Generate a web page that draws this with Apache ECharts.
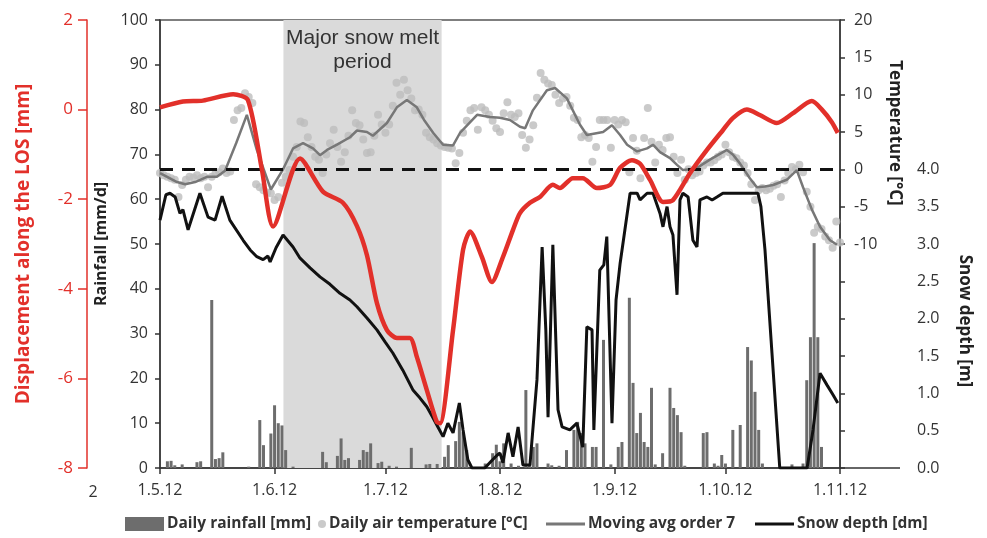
<!DOCTYPE html>
<html>
<head>
<meta charset="utf-8">
<script src="https://cdn.jsdelivr.net/npm/echarts@6/dist/echarts.min.js"></script>
<style>
  html, body { margin: 0; padding: 0; background: #fff; }
  #chart { width: 987px; height: 538px; }
</style>
</head>
<body>
<div id="chart"></div>
<script>
// Day index 0 = 1 May 2012
const monthStarts = [0, 31, 61, 92, 123, 153, 184];
const monthLabels = ['1.5.12', '1.6.12', '1.7.12', '1.8.12', '1.9.12', '1.10.12', '1.11.12'];

// Daily rainfall [mm], one value per day from 1.5.12
const rainfall = [
  0, 0, 1.5, 1.6, 0.6, 0, 0.8, 0, 0, 0,
  1.3, 1.5, 0, 0, 37.5, 2.0, 2.2, 3.5, 0, 0,
  0, 0, 0, 0, 0.3, 0, 0, 10.7, 5.1, 0,
  7.7, 14.0, 10.0, 9.5, 4.0, 0, 0.3, 0, 0, 0,
  0, 0, 0, 0, 3.6, 1.3, 0, 0, 2.7, 6.6,
  1.8, 2.2, 0, 0, 1.8, 4.0, 3.6, 5.5, 0, 1.1,
  1.4, 0, 0.5, 0, 0.3, 0, 0, 0, 4.5, 0,
  0, 0, 0.8, 0.9, 0, 0.9, 0, 2.5, 5.1, 0,
  6.0, 10.3, 8.0, 4.0, 0, 0, 0, 0, 1.0, 0,
  3.3, 5.2, 1.5, 5.5, 0, 1.0, 0, 0.5, 0, 17.4,
  0.8, 4.7, 5.5, 0, 0, 1.0, 0.6, 0, 0.5, 0,
  4.0, 0, 8.5, 10.3, 7.8, 5.5, 0, 4.7, 4.7, 0,
  28.6, 0, 0.8, 0, 4.7, 5.8, 0, 38.0, 19.0, 7.8,
  12.3, 5.8, 4.7, 17.9, 0.8, 0, 3.3, 0, 17.9, 13.4,
  11.8, 8.0, 0.5, 0, 0, 0, 0, 7.8, 8.0, 0,
  1.0, 0.5, 2.9, 1.0, 0, 8.5, 0, 9.6, 0, 27.0,
  24.0, 17.0, 8.5, 1.0, 0, 0, 0, 0, 0, 0,
  0, 0.8, 0, 0, 1.0, 19.6, 29.2, 50.2, 29.2, 4.7,
  0, 0, 0, 0
];

// Daily air temperature [°C], one value per day from 1.5.12 to 1.11.12
const airTemp = [
  -0.5, -0.8, -1.0, -1.2, -1.4, -3.7, -2.1, -1.4, -1.0, -1.1,
  -0.8, -1.2, -1.0, -2.4, -1.0, -0.6, -0.4, 0.1, -0.5, -0.3,
  6.6, 7.9, 8.2, 10.2, 9.7, 8.9, -2.0, -2.4, -2.8, -3.1,
  -3.2, -4.1, -3.7, -1.8, -1.0, -0.1, 1.7, 3.0, 6.4, 6.2,
  4.3, 3.0, 1.7, 1.3, -0.5, 2.0, 3.5, 5.3, 3.0, 1.0,
  2.3, 4.5, 7.9, 6.2, 5.9, 4.0, 2.2, 2.3, 4.5, 7.3,
  6.0, 4.9, 6.0, 8.5, 11.6, 10.0, 12.0, 10.6, 9.5, 7.9,
  8.0, 7.3, 4.9, 4.3, 4.0, 3.5, 3.2, 3.0, 2.9, 2.8,
  0.8, 2.2, 4.9, 6.5, 7.9, 8.2, 5.3, 8.3, 7.9, 7.3,
  6.5, 5.5, 5.0, 7.5, 9.0, 7.3, 7.0, 7.5, 4.6, 2.9,
  4.0, 5.9, 9.6, 12.9, 12.0, 11.5, 11.3, 10.0, 8.9, 9.5,
  9.7, 8.5, 6.9, 6.6, 4.3, 4.6, 4.2, 1.0, 3.0, 6.6,
  6.6, 6.6, 2.9, 6.6, 6.0, 6.6, 6.3, -0.4, 4.2, 2.5,
  -1.2, 4.2, 8.2, 3.7, 0.9, 3.3, 2.6, 4.2, 4.3, 1.7,
  -0.5, 1.3, -1.4, 0.0, -0.8, -0.5, -0.3, 0.5, 0.9, 0.9,
  1.2, 1.7, 2.0, 3.3, 2.3, 1.7, 1.5, 0.9, 0.5, -0.5,
  -2.0, -4.1, -2.8, -2.5, -2.8, -2.6, -2.2, -2.0, -3.7, -1.5,
  -0.5, 0.3, 0.0, 0.6, -0.4, -3.0, -5.0, -8.5, -7.7, -8.0,
  -9.0, -9.5, -10.5, -7.0, -9.8
];

// Moving average (order 7) of air temperature: [day, °C]
const movingAvg = [
  [0, -0.5], [2.7, -1.2], [4.6, -1.7], [6.8, -2.0], [9.5, -1.7], [12.7, -1.0],
  [15.4, -1.0], [17.6, -0.2], [20.6, 3.5], [23.5, 7.3], [26.2, 2.6], [30, -2.7],
  [33.3, 0], [36, 2.8], [38.7, 3.5], [41.4, 2.8], [43.3, 1.9], [45.2, 2.6],
  [47.9, 3.3], [51.4, 4.3], [53.3, 5.2], [56, 5.0], [57.6, 4.5], [61.4, 6.2],
  [64.1, 8.3], [66.8, 9.3], [69.5, 8.3], [71.6, 6.5], [73.9, 4.9], [76.6, 3.3],
  [79.3, 3.2], [81.2, 4.9], [83.1, 5.9], [85.8, 7.3], [89.3, 7.0], [92, 6.9],
  [94.7, 6.6], [97.4, 5.7], [98.8, 5.5], [100.9, 7.9], [104.7, 10.6], [106.9, 10.9],
  [110.1, 9.5], [113.6, 6.0], [115.5, 4.6], [117.7, 4.8], [119.9, 5.0], [122.3, 5.9],
  [124.5, 4.6], [126.4, 3.3], [129.1, 2.4], [131.8, 2.8], [133.4, 3.3], [135.3, 2.3],
  [138, 1.5], [139.9, 0.6], [141.5, -0.1], [143.4, 0], [145.3, 0.2], [148.8, 1.3],
  [153.4, 2.6], [155, 2.0], [156.9, 0.8], [159.6, -1.2], [161.5, -2.4], [163.7, -2.3],
  [165.9, -2.1], [169.6, -1.4], [172.3, -0.1], [174, -2.4], [176.4, -5.4], [178.6, -7.7],
  [181.3, -9.5], [183.2, -10.1]
];

// Snow depth: [day, m]
const snowDepth = [
  [0, 3.32], [1.6, 3.66], [2.7, 3.68], [4.1, 3.63], [5.4, 3.41], [6.2, 3.46], [7.6, 3.19],
  [10.8, 3.68], [13, 3.36], [14.9, 3.32], [16.8, 3.64], [18.9, 3.32], [22.5, 3.05],
  [24.4, 2.92], [26.2, 2.83], [27.9, 2.79], [29.2, 2.84], [29.8, 2.76], [31.4, 2.95],
  [33.3, 3.12], [36, 2.96], [37.9, 2.81], [40.6, 2.68], [43.3, 2.56], [46, 2.46],
  [48.7, 2.34], [51.4, 2.25], [53.3, 2.16], [56, 2.01], [58.7, 1.85], [60.9, 1.69],
  [63, 1.54], [65.7, 1.31], [68.5, 1.04], [70.3, 0.94], [72.2, 0.82], [73.9, 0.67],
  [75.2, 0.55], [76.6, 0.42], [77.9, 0.60], [79.3, 0.47], [81, 0.87], [82, 0.51],
  [83.3, 0.11], [84.4, 0], [87.9, 0], [89.8, 0.1], [91.2, 0.17], [92, 0.2], [92.8, 0.07],
  [94.2, 0.47], [95.5, 0.15], [96.9, 0.55], [98.2, 0.04], [100.1, 0.04], [102, 1.18],
  [103.4, 2.96], [104.4, 1.85], [105, 0.68], [106.3, 2.99], [107.7, 0.78], [108.8, 0.55],
  [110.9, 0.51], [112.8, 0.6], [114.4, 0.28], [115.5, 1.89], [116.9, 1.85], [117.4, 0.51],
  [119, 2.65], [120.1, 2.72], [120.9, 3.1], [122.3, 0.6], [123.4, 2.25], [124.5, 2.74],
  [125.8, 3.19], [127.2, 3.68], [129.1, 3.68], [129.9, 3.59], [131.8, 3.68], [133.4, 3.68],
  [135.3, 3.41], [136.1, 3.23], [137.2, 3.5], [138, 3.23], [138.8, 3.12], [139.9, 2.32],
  [140.7, 3.59], [141.5, 3.68], [142.9, 3.63], [144.2, 3.05], [145.3, 2.96], [146.1, 3.59],
  [148, 3.63], [149.4, 3.59], [150.7, 3.63], [152.3, 3.68], [161.8, 3.68], [162.6, 3.5],
  [163.7, 2.92], [167.7, 0], [175.1, 0], [176.7, 0.51], [178.6, 1.27], [180.5, 1.11],
  [182.1, 0.98], [183.4, 0.87]
];

// Displacement along the line of sight: [day, mm]
const displacement = [
  [0, 0.05], [6.2, 0.18], [11.6, 0.2], [19.8, 0.34], [23.8, 0.21], [27.6, -1.35],
  [30.6, -2.61], [37.9, -1.09], [44.1, -1.83], [49.5, -2.08], [53.3, -2.6], [56, -3.25],
  [58.7, -4.32], [61.4, -4.92], [64.1, -5.1], [67.6, -5.1], [69.5, -5.52], [72.2, -6.26],
  [74.9, -6.97], [75.8, -7.0], [79.3, -4.92], [82, -3.13], [83.9, -2.72], [87.1, -3.29],
  [89.8, -3.85], [92.8, -3.29], [95.5, -2.69], [97.4, -2.31], [100.1, -2.08], [102.8, -1.95],
  [106.3, -1.68], [108.2, -1.75], [111.7, -1.53], [114.4, -1.53], [118.2, -1.75], [121.8, -1.68],
  [124.5, -1.30], [127.7, -1.13], [129.9, -1.21], [132.6, -1.57], [136.1, -2.06], [138.8, -2.02],
  [143.4, -1.42], [148, -0.9], [152.3, -0.46], [155, -0.19], [158.8, 0.0], [162.3, -0.12],
  [166.9, -0.3], [171.3, -0.08], [176.4, 0.19], [179.1, 0.0], [181.8, -0.28], [183.4, -0.52]
];

// Major snow melt period: start and end day
const meltPeriod = [33.4, 76.2];

const FONT = '"Open Sans", "Liberation Sans", sans-serif';
const TEXT = '#333';
const RED = '#e2302a';

const chart = echarts.init(document.getElementById('chart'));

const legendText = { fontFamily: FONT, fontSize: 15.5, fontWeight: 'bold', color: TEXT, padding: [0, 0, 0, -2] };

chart.setOption({
  animation: false,
  textStyle: { fontFamily: FONT },
  grid: {
    left: 160, right: 147, top: 20, bottom: 70,
    show: true, borderColor: '#555', borderWidth: 1.5, backgroundColor: 'transparent'
  },
  legend: [
    { data: ['Daily rainfall [mm]'], left: 120, top: 511, icon: 'rect', itemWidth: 39, itemHeight: 14, textStyle: legendText },
    { data: ['Daily air temperature [°C]'], left: 313, top: 511, icon: 'circle', itemWidth: 8, itemHeight: 8, textStyle: legendText },
    { data: ['Moving avg order 7'], left: 541, top: 511, icon: 'rect', itemWidth: 39, itemHeight: 3, textStyle: legendText },
    { data: ['Snow depth [dm]'], left: 750, top: 511, icon: 'rect', itemWidth: 39, itemHeight: 3, textStyle: legendText }
  ],
  xAxis: {
    type: 'value', min: 0, max: 184,
    axisLine: { lineStyle: { color: TEXT, width: 1.5 } },
    axisTick: { customValues: monthStarts, length: 6, lineStyle: { color: TEXT, width: 1.5 } },
    axisLabel: {
      customValues: monthStarts,
      formatter: v => monthLabels[monthStarts.indexOf(v)],
      fontSize: 16, color: TEXT, margin: 14
    },
    splitLine: { show: false }
  },
  yAxis: [
    {
      type: 'value', position: 'left', min: 0, max: 100, interval: 10,
      name: 'Rainfall [mm/d]', nameLocation: 'middle', nameGap: 47,
      nameTextStyle: { fontSize: 16, fontWeight: 'bold', color: '#222' },
      axisLine: { show: true, lineStyle: { color: TEXT, width: 1.5 } },
      axisTick: { show: true, length: 5, lineStyle: { color: TEXT, width: 1.5 } },
      axisLabel: { fontSize: 16, color: TEXT, margin: 12 },
      splitLine: { show: false }
    },
    {
      type: 'value', position: 'left', offset: 73, min: -8, max: 2, interval: 2,
      name: 'Displacement along the LOS [mm]', nameLocation: 'middle', nameGap: 54,
      nameTextStyle: { fontSize: 19, fontWeight: 'bold', color: RED },
      axisLine: { show: true, lineStyle: { color: RED, width: 1.5 } },
      axisTick: { show: true, length: 9, lineStyle: { color: RED, width: 1.5 } },
      axisLabel: { fontSize: 17, color: RED, margin: 14 },
      splitLine: { show: false }
    },
    {
      type: 'value', position: 'right', min: -40, max: 20, interval: 5,
      axisLine: { show: true, lineStyle: { color: TEXT, width: 1.5 } },
      axisTick: { show: true, length: 5, lineStyle: { color: TEXT, width: 1.5 } },
      axisLabel: { fontSize: 16, color: TEXT, margin: 14, formatter: v => (v >= -10 ? String(v) : '') },
      splitLine: { show: false }
    },
    {
      type: 'value', position: 'right', offset: 65, min: 0, max: 6, interval: 0.5,
      axisLine: { show: false }, axisTick: { show: false },
      axisLabel: { fontSize: 16, color: TEXT, margin: 12, formatter: v => (v <= 4 ? v.toFixed(1) : '') },
      splitLine: { show: false }
    }
  ],
  series: [
    {
      name: 'Daily rainfall [mm]', type: 'bar', yAxisIndex: 0,
      data: rainfall.map((v, i) => [i, v]),
      barWidth: 3,
      itemStyle: { color: '#6d6d6d' },
      markArea: {
        silent: true,
        itemStyle: { color: '#dadada' },
        label: {
          show: true, position: 'insideTop', distance: 6,
          formatter: 'Major snow melt\nperiod',
          fontFamily: '"Liberation Sans", Arial, sans-serif',
          fontSize: 21, lineHeight: 24, color: '#333'
        },
        data: [[{ xAxis: meltPeriod[0] }, { xAxis: meltPeriod[1] }]]
      }
    },
    {
      name: 'Daily air temperature [°C]', type: 'scatter', yAxisIndex: 2,
      data: airTemp.map((v, i) => [i, v]),
      symbolSize: 8,
      itemStyle: { color: '#bdbdbd' },
      z: 3
    },
    {
      name: 'Moving avg order 7', type: 'line', yAxisIndex: 2,
      data: movingAvg, symbol: 'none',
      lineStyle: { color: '#777', width: 2.5 },
      itemStyle: { color: '#777' },
      z: 4,
      markLine: {
        silent: true, symbol: 'none',
        label: { show: false },
        lineStyle: { color: '#111', type: [13, 9], width: 3 },
        data: [{ yAxis: 0 }]
      }
    },
    {
      name: 'Snow depth [dm]', type: 'line', yAxisIndex: 3,
      data: snowDepth, symbol: 'none',
      lineStyle: { color: '#111', width: 3 },
      itemStyle: { color: '#111' },
      z: 5
    },
    {
      name: 'Displacement', type: 'line', yAxisIndex: 1,
      data: displacement, symbol: 'none', smooth: 0.25,
      lineStyle: { color: RED, width: 4.5 },
      itemStyle: { color: RED },
      z: 6
    }
  ],
  graphic: [
    {
      type: 'text', x: 895, y: 133, rotation: -Math.PI / 2,
      style: { text: 'Temperature [°C]', font: 'bold 17px ' + FONT, fill: '#222', textAlign: 'center', textVerticalAlign: 'middle' }
    },
    {
      type: 'text', x: 965, y: 321, rotation: -Math.PI / 2,
      style: { text: 'Snow depth [m]', font: 'bold 17px ' + FONT, fill: '#222', textAlign: 'center', textVerticalAlign: 'middle' }
    },
    {
      type: 'text', x: 93, y: 492,
      style: { text: '2', font: '16px ' + FONT, fill: TEXT, textAlign: 'center', textVerticalAlign: 'middle' }
    },
    {
      type: 'line', shape: { x1: 840, y1: 468, x2: 900, y2: 468 },
      style: { stroke: TEXT, lineWidth: 1.5 }
    }
  ]
});
</script>
</body>
</html>
